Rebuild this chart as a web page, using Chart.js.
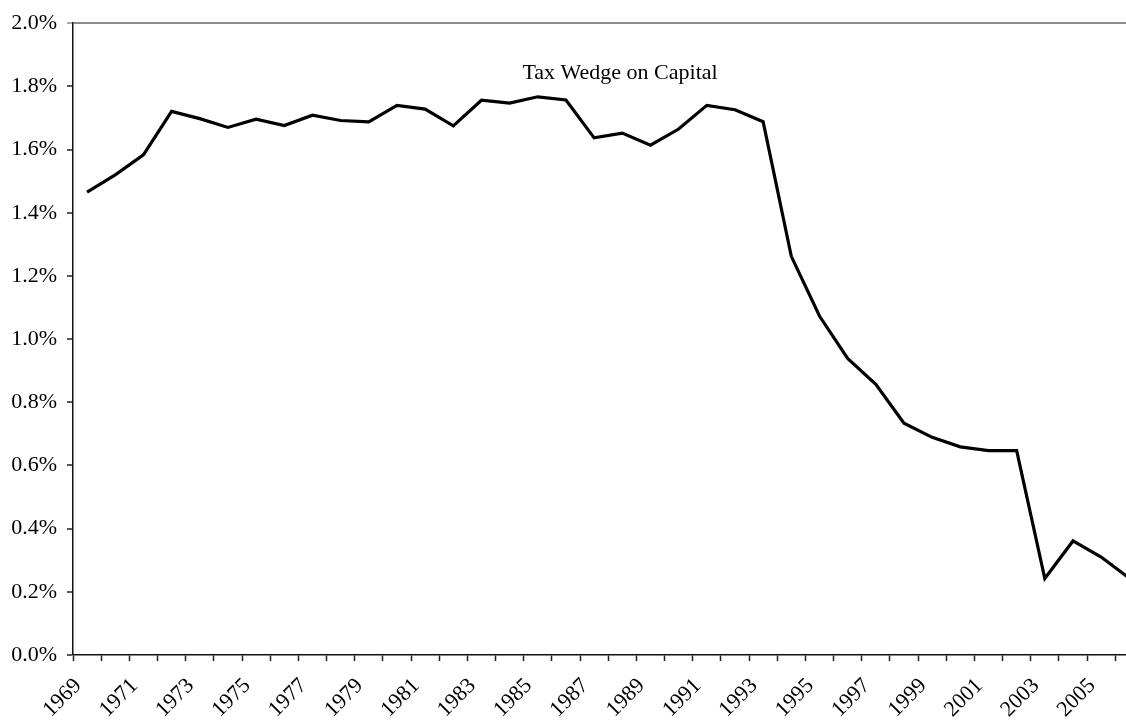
<!DOCTYPE html>
<html>
<head>
<meta charset="utf-8">
<script src="https://cdn.jsdelivr.net/npm/chart.js@4/dist/chart.umd.min.js"></script>
<style>
  html,body{margin:0;padding:0;background:#fff;overflow:hidden;}
  canvas{display:block;}
</style>
</head>
<body>
<canvas id="wedge" width="1160" height="723"></canvas>
<script>
// years on the category axis (labels shown every second year)
const years = [];
for (let y = 1969; y <= 2006; y++) years.push(String(y));

// tax wedge on capital, %
const wedge = [
  1.465, 1.520, 1.583, 1.721, 1.698, 1.670, 1.696, 1.676, 1.709, 1.692,
  1.688, 1.740, 1.728, 1.675, 1.756, 1.747, 1.767, 1.757, 1.637, 1.652,
  1.614, 1.665, 1.740, 1.726, 1.688, 1.262, 1.073, 0.939, 0.857, 0.734,
  0.689, 0.659, 0.647, 0.647, 0.242, 0.361, 0.310, 0.243
];

const yTicks = [0, 0.2, 0.4, 0.6, 0.8, 1.0, 1.2, 1.4, 1.6, 1.8, 2.0];
const seriesLabel = 'Tax Wedge on Capital';

const FONT = {family:'"Liberation Serif", "Times New Roman", serif', size:22};

// label sits inside the plot, above the peak
const labelPlugin = {
  id:'seriesLabel',
  afterDraw(chart){
    const ctx = chart.ctx, a = chart.chartArea;
    ctx.save();
    ctx.font = `${FONT.size}px ${FONT.family}`;
    ctx.fillStyle = '#000';
    ctx.textAlign = 'center';
    ctx.textBaseline = 'alphabetic';
    ctx.fillText(seriesLabel, a.left + 547, a.top + 56);
    ctx.restore();
  }
};

const isTop = c => c.tick && c.tick.value >= 1.999;

new Chart(document.getElementById('wedge'), {
  type:'line',
  data:{
    labels: years,
    datasets:[{
      label: seriesLabel,
      data: wedge,
      borderColor:'#000',
      borderWidth:3.2,
      pointRadius:0,
      tension:0,
      fill:false
    }]
  },
  options:{
    responsive:false,
    animation:false,
    layout:{padding:{top:21, right:0, bottom:0, left:0}},
    plugins:{legend:{display:false}, tooltip:{enabled:false}},
    scales:{
      x:{
        type:'category',
        offset:true,
        border:{color:'#111', width:1.5},
        grid:{offset:true, drawOnChartArea:false, drawTicks:true, tickLength:6, tickColor:'#222', tickWidth:1.5},
        ticks:{
          autoSkip:false, minRotation:45, maxRotation:45, padding:12, labelOffset:-9,
          color:'#000', font:FONT,
          callback(v, i){ return i % 2 === 0 ? years[i] : ''; }
        },
        afterFit(s){ s.height = 68; }
      },
      y:{
        min:0, max:2.0,
        afterBuildTicks(s){ s.ticks = yTicks.map(v => ({value:v})); },
        border:{color:'#111', width:1.5},
        grid:{
          drawTicks:true, tickLength:6, tickWidth:1.5,
          tickColor(c){ return isTop(c) ? '#8c8c8c' : '#222'; },
          color(c){ return isTop(c) ? '#8c8c8c' : 'rgba(0,0,0,0)'; },
          lineWidth(c){ return isTop(c) ? 2 : 0; }
        },
        ticks:{
          color:'#000', font:FONT, padding:10,
          callback(v){ return v.toFixed(1) + '%'; }
        },
        afterFit(s){ s.width = 73; }
      }
    }
  },
  plugins:[labelPlugin]
});
</script>
</body>
</html>
